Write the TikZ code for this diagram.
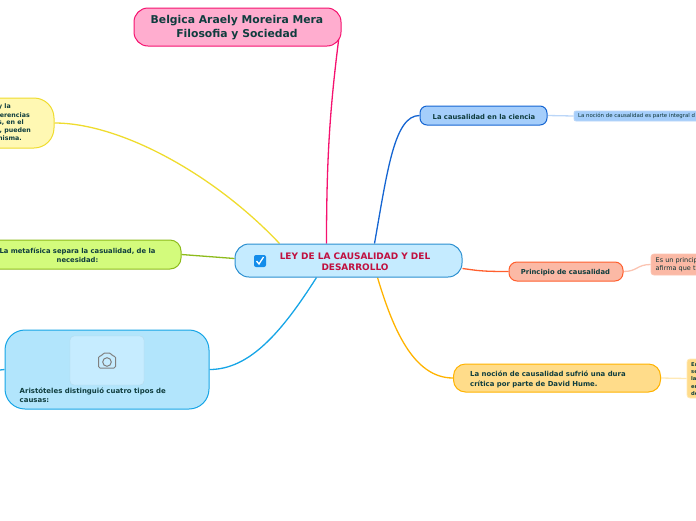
\documentclass[tikz,border=0pt]{standalone}
\usepackage{fontspec}
\setmainfont{DejaVu Sans}
\usetikzlibrary{calc}
\definecolor{ink}{HTML}{0F3D3E}
\tikzset{
  box/.style={draw,line width=1pt,inner sep=0pt,align=center,text=ink,font=\bfseries},
  frag/.style={text=ink,inner sep=0pt,font=\bfseries\fontsize{6.3}{8}\selectfont},
  link/.style={line width=1.3pt},
  titlebox/.style={box,fill=pinkf,draw=pinkd,rounded corners=14pt,minimum width=207pt,minimum height=38pt},
  mainbox/.style={box,fill=centf,draw=centd,rounded corners=14pt,minimum width=227pt,minimum height=33pt},
  small/.style={font=\bfseries\fontsize{6.8}{10.5}\selectfont}
}
\definecolor{pinkf}{HTML}{FFADCF}\definecolor{pinkd}{HTML}{F5126F}
\definecolor{yelf}{HTML}{FFF8B3}\definecolor{yeld}{HTML}{EFDC2E}
\definecolor{grnf}{HTML}{D3FB7C}\definecolor{grnd}{HTML}{8DBB1B}
\definecolor{bluf}{HTML}{B2E5FC}\definecolor{blud}{HTML}{16A5E6}
\definecolor{imgf}{HTML}{C6ECFF}
\definecolor{centf}{HTML}{C5EBFF}\definecolor{centd}{HTML}{2B8FD0}\definecolor{centt}{HTML}{C0103F}
\definecolor{scif}{HTML}{A5CEFB}\definecolor{scid}{HTML}{1565D2}\definecolor{scil}{HTML}{BBD6F8}
\definecolor{prif}{HTML}{FBB9A5}\definecolor{prid}{HTML}{FF5F2E}\definecolor{pril}{HTML}{FBC4B2}
\definecolor{humf}{HTML}{FFDC8A}\definecolor{humd}{HTML}{FFB300}\definecolor{huml}{HTML}{FFE9B5}
\begin{document}
\begin{tikzpicture}[x=1pt,y=-1pt]
\useasboundingbox (0,0) rectangle (696,520);
\clip (0,0) rectangle (696,520);
\pgfdeclarelayer{back}\pgfsetlayers{back,main}
\node[titlebox] (title) at (237.5,27) {};
\node[text=ink,inner sep=0pt,align=center,font=\bfseries\fontsize{10.8}{13.5}\selectfont] (titletext) at (237,27.5) {Belgica Araely Moreira Mera\\Filosofia y Sociedad};
\node[mainbox] (main) at (348.5,260.5) {};
\node[text=centt,inner sep=0pt,align=center,font=\bfseries\fontsize{8.95}{11}\selectfont] (maintext) at (355,261.5) {LEY DE LA CAUSALIDAD Y DEL\\DESARROLLO};
\node[box,fill=yelf,draw=yeld,rounded corners=20pt,minimum width=114pt,minimum height=50pt] (yellow) at (-3,123) {};
\node[frag,anchor=east] (y1) at (11,107) {y la};
\node[frag,anchor=east] (y2) at (30,115.5) {ferencias};
\node[frag,anchor=east] (y3) at (24,123) {s, en el};
\node[frag,anchor=east] (y4) at (31,130.5) {s, pueden};
\node[frag,anchor=east] (y5) at (22,138) {misma.};
\node[box,small,fill=grnf,draw=grnd,rounded corners=11pt,minimum width=221pt,minimum height=29pt] (green) at (70.5,254.5) {};
\node[text=ink,inner sep=0pt,align=center,font=\bfseries\fontsize{6.8}{9}\selectfont] (greentext) at (77.5,255.5) {La metafísica separa la casualidad, de la\\necesidad:};
\node[box,fill=bluf,draw=blud,rounded corners=20pt,minimum width=204pt,minimum height=79pt] (aris) at (107,369.5) {};
\node[fill=imgf,draw=imgf!92!black,line width=.4pt,rounded corners=4pt,minimum width=74pt,minimum height=49pt,inner sep=0pt] (img) at (107,360.5) {};
\node[text=ink,inner sep=0pt,align=left,anchor=north west,font=\bfseries\fontsize{6.95}{9}\selectfont] (aristext) at (19.5,387.5) {Aristóteles distinguió cuatro tipos de\\causas:};
\node[box,small,fill=scif,draw=scid,rounded corners=7pt,minimum width=127pt,minimum height=19pt] (sci) at (483.5,115.5) {};
\node[text=ink,inner sep=0pt,small] (scitext) at (484,116.5) {La causalidad en la ciencia};
\node[draw=scil,fill=scif,line width=.8pt,rounded corners=2pt,minimum width=140pt,minimum height=10pt,inner sep=0pt] (sciL) at (644,116) {};
\node[text=ink!85!black,anchor=west,inner sep=0pt,font=\fontsize{5.4}{7}\selectfont] (scit) at (578,116) {La noción de causalidad es parte integral d};
\node[box,fill=prif,draw=prid,rounded corners=8pt,minimum width=114pt,minimum height=19pt] (pri) at (566,271.5) {};
\node[text=ink,inner sep=0pt,small] (pritext) at (565.5,272.5) {Principio de causalidad};
\node[draw=pril,fill=prif,line width=.8pt,rounded corners=3pt,minimum width=90pt,minimum height=21pt,inner sep=0pt] (priL) at (696,264.5) {};
\node[text=ink!85!black,anchor=west,align=left,inner sep=0pt,font=\fontsize{6.5}{8.5}\selectfont] (prit) at (655.5,264.5) {Es un princip\\afirma que t};
\node[box,fill=humf,draw=humd,rounded corners=12pt,minimum width=207pt,minimum height=28pt] (hum) at (557,378) {};
\node[text=ink,inner sep=0pt,align=left,anchor=west,font=\bfseries\fontsize{6.9}{10}\selectfont] (humt) at (470,379) {La noción de causalidad sufrió una dura\\crítica por parte de David Hume.};
\node[draw=huml,fill=humf,line width=.8pt,rounded corners=3pt,minimum width=40pt,minimum height=39pt,inner sep=0pt] (humL) at (707,378.5) {};
\node[text=ink,anchor=west,align=left,inner sep=0pt,font=\bfseries\fontsize{5.2}{7.3}\selectfont] (humLt) at (691,379) {En\\se\\la\\en\\de};
\coordinate (stub) at (0,370);
% check box icon
\node[fill=blud!85!blue,rounded corners=2pt,minimum size=12pt,inner sep=0pt] (chk) at (260,261) {};
\draw[white,line width=1.3pt] (256.5,261) -- (259,264) -- (263.5,257);
% camera icon
\draw[gray,line width=1pt,rounded corners=1.5pt] (98.5,356) -- (102,356) -- (103,353) -- (111,353) -- (112,356) -- (115.5,356) -- (115.5,368) -- (98.5,368) -- cycle;
\draw[gray,line width=1pt] (107,362) circle (4.3);
% connectors
\begin{pgfonlayer}{back}
\draw[link,draw=pinkd] ($(main.north west)+(92,0)$) .. controls +(0,-90) and +(-9,70) .. ($(title.east)+(-2,6)$);
\draw[link,draw=yeld] ($(main.north west)+(45,0)$) .. controls +(-65,-69) and +(66,0) .. (yellow.east);
\draw[link,draw=grnd] ($(main.west)+(0,-2)$) -- (green.east);
\draw[link,draw=blud] ($(main.south west)+(82,0)$) .. controls +(-35,55) and +(40,0) .. (aris.east);
\draw[link,draw=blud] (aris.west) -- (stub);
\draw[link,draw=scid] ($(main.north west)+(140,0)$) .. controls +(13,-74) and +(-25,0) .. (sci.west);
\draw[link,draw=prid] ($(main.east)+(0,8)$) .. controls +(15,2) and +(-28,0) .. (pri.west);
\draw[link,draw=humd] ($(main.south west)+(143,0)$) .. controls +(15,50) and +(-40,0) .. (hum.west);
\draw[link,draw=scil] (sci.east) -- (sciL.west);
\draw[link,draw=pril] (pri.east) .. controls +(14,0) and +(-14,0) .. (priL.west);
\draw[link,draw=huml] (hum.east) -- (humL.west);
\end{pgfonlayer}
\end{tikzpicture}
\end{document}
